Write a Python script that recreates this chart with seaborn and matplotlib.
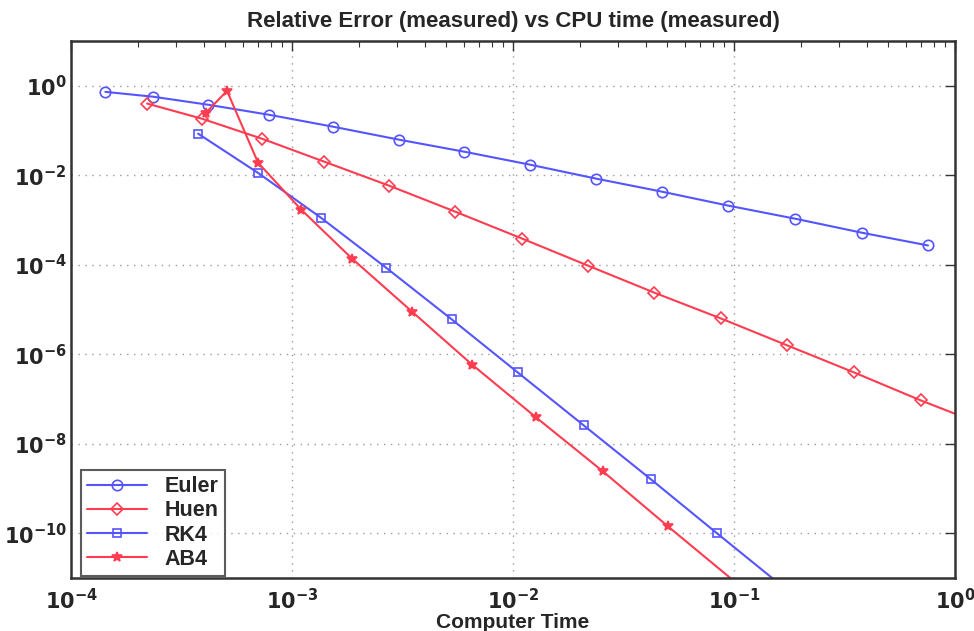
import numpy as np
import pandas as pd
import matplotlib
matplotlib.use("Agg")
import matplotlib.pyplot as plt
import seaborn as sns
from matplotlib.ticker import LogLocator, FuncFormatter, NullLocator

euler_x = [1.43e-4, 2.35e-4, 4.17e-4, 7.87e-4, 1.53e-3, 3.05e-3, 6.0e-3, 1.19e-2, 2.38e-2, 4.72e-2, 9.4e-2, 0.189, 0.379, 0.755]
euler_y = [0.73, 0.57, 0.377, 0.225, 0.122, 0.0624, 0.0337, 0.0173, 0.0084, 0.0043, 0.0021, 1.07e-3, 5.2e-4, 2.7e-4]

huen_x = [2.21e-4, 3.92e-4, 7.31e-4, 1.40e-3, 2.75e-3, 5.47e-3, 1.10e-2, 2.18e-2, 4.35e-2, 8.73e-2, 0.174, 0.349, 0.70, 1.4]
huen_y = [0.40, 0.183, 0.0656, 0.0201, 5.86e-3, 1.54e-3, 3.84e-4, 9.6e-5, 2.39e-5, 6.3e-6, 1.58e-6, 3.93e-7, 9.3e-8, 2.45e-8]

rk4_x = [3.76e-4, 7.0e-4, 1.35e-3, 2.66e-3, 5.29e-3, 1.05e-2, 2.09e-2, 4.21e-2, 8.37e-2, 0.167]
rk4_y = [0.085, 0.0114, 1.13e-3, 8.65e-5, 5.98e-6, 3.93e-7, 2.57e-8, 1.6e-9, 1.0e-10, 6.3e-12]

ab4_x = [4.08e-4, 5.08e-4, 7.02e-4, 1.10e-3, 1.87e-3, 3.49e-3, 6.52e-3, 1.27e-2, 2.55e-2, 5.02e-2, 0.105]
ab4_y = [0.25, 0.77, 0.0191, 1.71e-3, 1.37e-4, 9.0e-6, 5.9e-7, 3.9e-8, 2.42e-9, 1.43e-10, 7e-12]

x_ticks = [1e-4, 1e-3, 1e-2, 1e-1, 1e0]
y_ticks = [1e0, 1e-2, 1e-4, 1e-6, 1e-8, 1e-10]

sns.set_theme(style="white")
plt.rcParams['font.family'] = ['Liberation Sans', 'DejaVu Sans']

BLUE = "#5555ff"
RED = "#ff3c50"

fig = plt.figure(figsize=(9.74, 6.31), dpi=100)
ax = fig.add_axes([0.0729, 0.084, 0.9076, 0.851])

series = [
    ("Euler", euler_x, euler_y, BLUE, "o", "none", 7.5),
    ("Huen", huen_x, huen_y, RED, "D", "none", 6.5),
    ("RK4", rk4_x, rk4_y, BLUE, "s", "none", 6),
    ("AB4", ab4_x, ab4_y, RED, "*", RED, 7),
]
for name, xs, ys, col, mk, mfc, ms in series:
    df = pd.DataFrame({"x": xs, "y": ys})
    sns.lineplot(data=df, x="x", y="y", ax=ax, sort=False, color=col, lw=1.5,
                 marker=mk, markersize=ms, markerfacecolor=mfc,
                 markeredgecolor=col, markeredgewidth=1.2, label=name)

ax.set_xscale("log")
ax.set_yscale("log")
ax.set_xlim(1e-4, 1e0)
ax.set_ylim(1e-11, 1e1)

ax.set_xticks(x_ticks)
ax.xaxis.set_minor_locator(LogLocator(base=10, subs=np.arange(2, 10), numticks=20))
ax.set_yticks(y_ticks)
ax.yaxis.set_minor_locator(NullLocator())

def fmt(v, pos):
    e = int(round(np.log10(v)))
    return r"$\mathbf{10^{%d}}$" % e

ax.xaxis.set_major_formatter(FuncFormatter(fmt))
ax.yaxis.set_major_formatter(FuncFormatter(fmt))

ax.tick_params(axis="both", which="both", direction="in", top=True, right=True,
               labelsize=15, color="#333333")
ax.tick_params(axis="both", which="major", length=7, width=1.0)
ax.tick_params(axis="x", which="major", pad=7)
ax.tick_params(axis="y", which="major", pad=3)
ax.tick_params(axis="both", which="minor", length=4, width=0.8)

ax.grid(True, which="major", linestyle=(0, (1, 4)), color="#999999", lw=1.0)
for s in ax.spines.values():
    s.set_visible(True)
    s.set_color("#333333")
    s.set_linewidth(1.8)

ax.set_title("Relative Error (measured) vs CPU time (measured)", fontsize=16,
             fontweight="bold", pad=10)
ax.set_xlabel("Computer Time", fontsize=15, fontweight="bold", labelpad=0)
ax.set_ylabel("")

leg = ax.legend(loc="lower left", fontsize=15.5, frameon=True, fancybox=False,
                edgecolor="#333333", handlelength=2.8, borderpad=0.3,
                labelspacing=0.15, borderaxespad=0.0,
                bbox_to_anchor=(0.011, 0.003))
leg.get_frame().set_linewidth(1.5)
for t in leg.get_texts():
    t.set_fontweight("bold")

fig.savefig("out.png", dpi=100)
